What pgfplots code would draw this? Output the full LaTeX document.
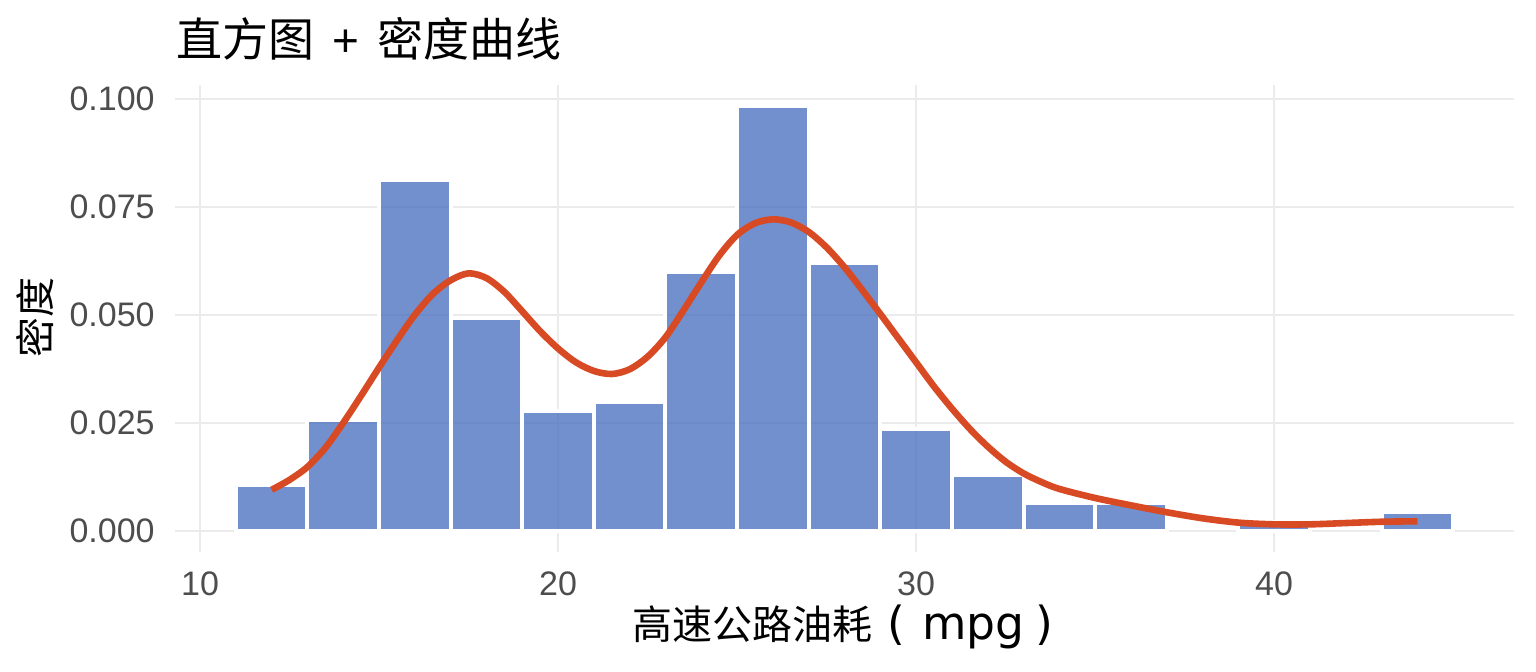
\documentclass[border=0pt]{standalone}
\usepackage{fontspec}
\setmainfont{Liberation Sans}
\newfontfamily\cjk{Noto Sans CJK SC}
\newfontfamily\latin{DejaVu Sans}
\usepackage{pgfplots}
\pgfplotsset{compat=1.18}
\usepackage{pgfplotstable}
\definecolor{barblue}{RGB}{79,116,193}
\definecolor{densred}{RGB}{216,74,36}
\definecolor{gridgray}{RGB}{235,235,235}
\definecolor{tickgray}{RGB}{77,77,77}

\pgfplotstableread{
x y
12 0.01068
14 0.02564
16 0.08120
18 0.04915
20 0.02778
22 0.02991
24 0.05983
26 0.09829
28 0.06197
30 0.02350
32 0.01282
34 0.00641
36 0.00641
40 0.00214
44 0.00427
}\histdata

\pgfplotstableread{
x y
12.0 0.0095
12.5 0.0118
13.0 0.0148
13.5 0.0192
14.0 0.0250
14.5 0.0313
15.0 0.0378
15.5 0.0441
16.0 0.0500
16.5 0.0548
17.0 0.0580
17.5 0.0596
18.0 0.0585
18.5 0.0553
19.0 0.0508
19.5 0.0462
20.0 0.0422
20.5 0.0390
21.0 0.0370
21.5 0.0363
22.0 0.0374
22.5 0.0403
23.0 0.0448
23.5 0.0510
24.0 0.0575
24.5 0.0637
25.0 0.0685
25.5 0.0712
26.0 0.0721
26.5 0.0714
27.0 0.0692
27.5 0.0656
28.0 0.0610
28.5 0.0557
29.0 0.0502
29.5 0.0446
30.0 0.0390
30.5 0.0334
31.0 0.0283
31.5 0.0236
32.0 0.0195
32.5 0.0160
33.0 0.0133
33.5 0.0113
34.0 0.0097
35.0 0.0076
36.0 0.0059
37.0 0.0043
38.0 0.0029
39.0 0.0019
40.0 0.0015
41.0 0.0015
42.0 0.0018
43.0 0.0021
44.0 0.0022
}\densdata

\begin{document}
\begin{tikzpicture}
\begin{axis}[
  scale only axis,
  width=669.5pt, height=233.5pt,
  xmin=9.3, xmax=46.7, ymin=-0.0049, ymax=0.1032,
  axis line style={draw=none},
  tick style={draw=none},
  grid=major,
  major grid style={color=gridgray, line width=1pt},
  xtick={10,20,30,40},
  xticklabels={10,20,30,40},
  ytick={0,0.025,0.05,0.075,0.1},
  yticklabels={0.000,0.025,0.050,0.075,0.100},
  scaled y ticks=false,
  scaled x ticks=false,
  ticklabel style={font=\fontsize{17}{20}\selectfont, text=tickgray, inner sep=0pt},
  yticklabel style={xshift=-10pt},
  xticklabel style={yshift=-9.5pt},
  clip=false,
]
\addplot[ybar, bar width=2, bar shift=0pt, fill=barblue, fill opacity=0.8,
  draw=white, line width=2pt] table[x=x,y=y] {\histdata};
\addplot[smooth, tension=0.5, color=densred, line width=3.3pt, no markers] table[x=x,y=y] {\densdata};
\end{axis}
% title
\node[anchor=west, inner sep=0pt, font=\cjk\fontsize{23}{26}\selectfont] at (0.75pt,256.5pt)
  {直方图\hspace{9pt}{\rmfamily+}\hspace{9pt}密度曲线};
% x axis title
\node[anchor=base west, inner sep=0pt, font=\cjk\fontsize{20}{22}\selectfont] at (228.5pt,-44pt) {高速公路油耗};
\node[anchor=base, inner sep=0pt, font=\latin\fontsize{22.8}{24}\selectfont] at (360.5pt,-44pt) {(};
\node[anchor=base west, inner sep=0pt, font=\latin\fontsize{22.8}{24}\selectfont] at (373.5pt,-44pt) {mpg};
\node[anchor=base, inner sep=0pt, font=\latin\fontsize{22.8}{24}\selectfont] at (434.5pt,-44pt) {)};
% y axis title
\node[anchor=center, inner sep=0pt, rotate=90, font=\cjk\fontsize{20}{22}\selectfont] at (-70pt,117pt) {密度};
\pgfresetboundingbox
\useasboundingbox (-87.5pt,-60pt) rectangle (680.5pt,276pt);
\end{tikzpicture}
\end{document}
